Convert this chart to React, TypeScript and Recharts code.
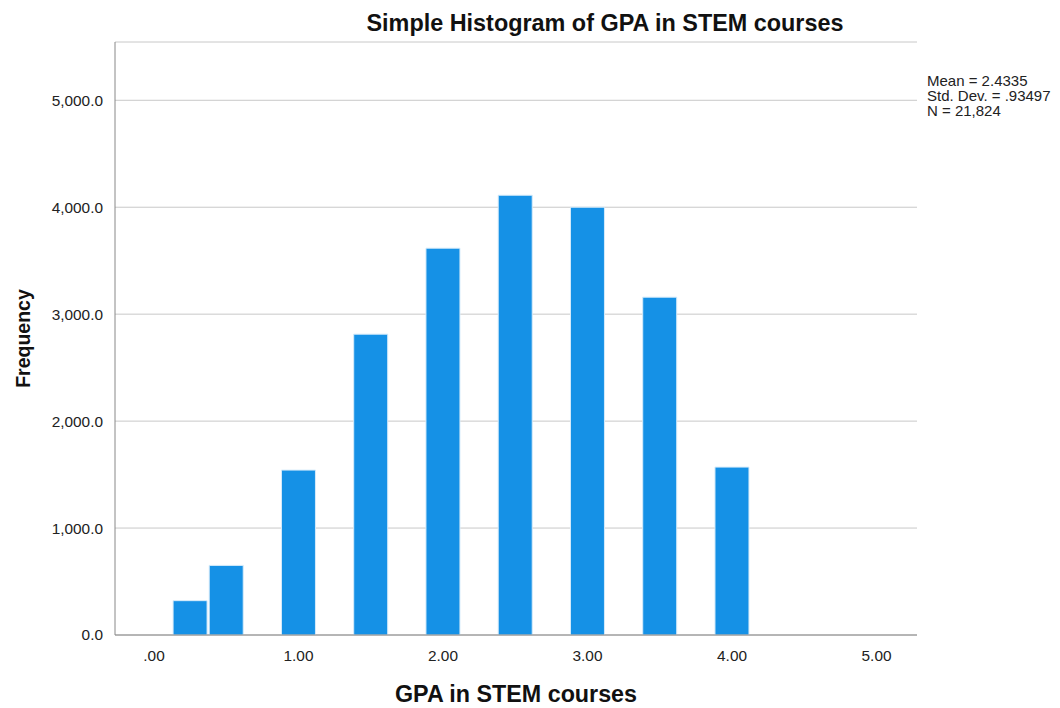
import React from 'react';
import { ComposedChart, Bar, XAxis, YAxis, CartesianGrid, Label } from 'recharts';

const gpaBins = [0.25, 0.5, 1.0, 1.5, 2.0, 2.5, 3.0, 3.5, 4.0];
const frequencies = [321, 651, 1542, 2813, 3617, 4112, 4000, 3159, 1570];
const xTicks = [0, 1, 2, 3, 4, 5];
const yTicks = [0, 1000, 2000, 3000, 4000, 5000];
const statLines = ['Mean = 2.4335', 'Std. Dev. = .93497', 'N = 21,824'];

const data = gpaBins.map((gpa, i) => ({ gpa, count: frequencies[i] }));

const FONT = '"Liberation Sans", Arial, sans-serif';

const fmtX = (v: number) => (v === 0 ? '.00' : v.toFixed(2));
const fmtY = (v: number) =>
  v.toLocaleString('en-US', { minimumFractionDigits: 1, maximumFractionDigits: 1 });

const App: React.FC = () => {
  return (
    <div style={{ position: 'absolute', left: 0, top: 0, width: 1060, height: 708, background: '#fff', fontFamily: FONT }}>
      <div
        style={{
          position: 'absolute',
          left: 0,
          width: 1210,
          top: 10,
          textAlign: 'center',
          fontSize: 23.4,
          lineHeight: 1.15,
          fontWeight: 'bold',
          color: '#111',
        }}
      >
        Simple Histogram of GPA in STEM courses
      </div>
      <div style={{ position: 'absolute', left: 927, top: 73, fontSize: 15, lineHeight: '15px', color: '#222', whiteSpace: 'nowrap' }}>
        {statLines.map((s) => (
          <div key={s}>{s}</div>
        ))}
      </div>
      <ComposedChart
        width={1060}
        height={708}
        data={data}
        margin={{ top: 42, right: 143, bottom: 33, left: 0 }}
        style={{ position: 'absolute', left: 0, top: 0 }}
      >
        <CartesianGrid vertical={false} stroke="#c8c8c8" />
        <XAxis
          dataKey="gpa"
          type="number"
          domain={[-0.27, 5.28]}
          allowDataOverflow
          ticks={xTicks}
          tickFormatter={fmtX}
          tickLine={false}
          axisLine={{ stroke: '#888' }}
          height={40}
          tick={{ fontSize: 15.4, fill: '#222', fontFamily: FONT }}
          tickMargin={9}
        >
          <Label
            value="GPA in STEM courses"
            position="bottom"
            offset={10}
            style={{ fontSize: 23.3, fontWeight: 'bold', fill: '#111', fontFamily: FONT }}
          />
        </XAxis>
        <YAxis
          type="number"
          domain={[0, 5545]}
          allowDataOverflow
          ticks={yTicks}
          tickFormatter={fmtY}
          tickLine={false}
          axisLine={{ stroke: '#888' }}
          width={115}
          tick={{ fontSize: 15.4, fill: '#222', fontFamily: FONT }}
          tickMargin={6}
        >
          <Label
            value="Frequency"
            angle={-90}
            position="insideLeft"
            offset={23}
            style={{ fontSize: 19.5, fontWeight: 'bold', fill: '#111', fontFamily: FONT, textAnchor: 'middle' }}
          />
        </YAxis>
        <Bar dataKey="count" barSize={34} fill="#1591e6" stroke="#d6ebfa" strokeWidth={1} isAnimationActive={false} />
      </ComposedChart>
    </div>
  );
};

export default App;
